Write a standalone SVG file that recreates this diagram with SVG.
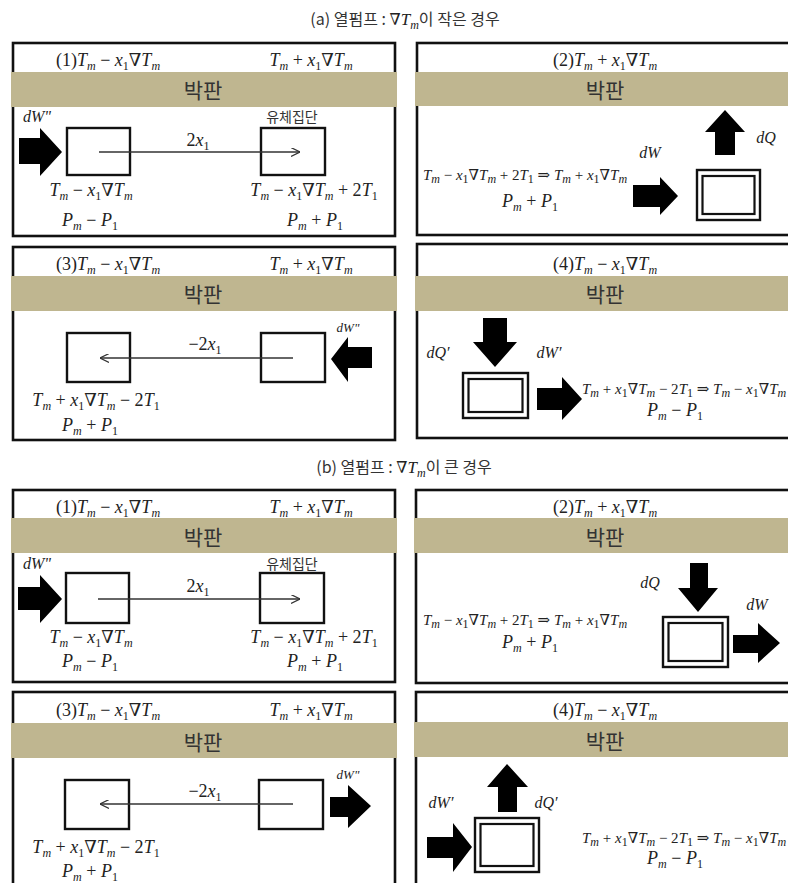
<svg xmlns="http://www.w3.org/2000/svg" width="788" height="883" viewBox="0 0 788 883">
<style>
.pn{fill:#fff;stroke:#111;stroke-width:2.6}
.band{fill:#bfb690}
.bx{fill:#fff;stroke:#111;stroke-width:2.4}
.bx2{fill:none;stroke:#111;stroke-width:2.2}
.ar{fill:#000}
.ln{stroke:#333;stroke-width:1.3;fill:none}
.m{font-family:"Liberation Serif","DejaVu Serif",serif;font-size:18px;fill:#222}
.f{font-size:15px}
.lb{font-size:16px}
.i{font-style:italic}
.s{font-size:12px}
.k{font-family:"Noto Sans CJK KR","Noto Sans",sans-serif;fill:#333}
.kb{font-size:21px}
.kt{font-size:16px}
.kf{font-size:14px}
</style>
<defs>
<marker id="chev" viewBox="0 0 10 10" refX="10" refY="5" markerWidth="9" markerHeight="9" markerUnits="userSpaceOnUse" orient="auto">
<path d="M0,0 L10,5 L0,10" fill="none" stroke="#333" stroke-width="1.3"/>
</marker>
</defs>
<rect width="788" height="883" fill="#fff"/>

<text class="k kt" x="405" y="25" text-anchor="middle">(a) 열펌프 : <tspan class="m" style="font-size:16px">∇</tspan><tspan class="m i" style="font-size:17px">T</tspan><tspan class="m i s" dy="4">m</tspan><tspan dy="-4">이 작은 경우</tspan></text>
<text class="k kt" x="404" y="473" text-anchor="middle">(b) 열펌프 : <tspan class="m" style="font-size:16px">∇</tspan><tspan class="m i" style="font-size:17px">T</tspan><tspan class="m i s" dy="4">m</tspan><tspan dy="-4">이 큰 경우</tspan></text>

<!-- (a)(1) -->
<g id="a1">
<rect class="pn" x="13" y="43" width="382" height="193"/>
<rect class="band" x="11" y="72" width="386" height="35"/>
<text class="k kb" x="203" y="98" text-anchor="middle">박판</text>
<text class="m" x="108" y="66" text-anchor="middle">(1)<tspan class="i">T</tspan><tspan class="i s" dy="4">m</tspan><tspan dy="-4"> − </tspan><tspan class="i">x</tspan><tspan class="s" dy="4">1</tspan><tspan dy="-4">∇</tspan><tspan class="i">T</tspan><tspan class="i s" dy="4">m</tspan></text>
<text class="m" x="311" y="66" text-anchor="middle"><tspan class="i">T</tspan><tspan class="i s" dy="4">m</tspan><tspan dy="-4"> + </tspan><tspan class="i">x</tspan><tspan class="s" dy="4">1</tspan><tspan dy="-4">∇</tspan><tspan class="i">T</tspan><tspan class="i s" dy="4">m</tspan></text>
<g id="a1-box1"><rect class="bx" x="67" y="128" width="63" height="47"/></g>
<g id="a1-box2"><rect class="bx" x="261" y="128" width="64" height="47"/></g>
<polygon class="ar" points="19,138 40,138 40,128 62,152 40,176 40,164 19,164"/>
<text class="m i lb" x="23" y="122">dW"</text>
<text class="k kf" x="292" y="122" text-anchor="middle">유체집단</text>
<text class="m" x="198" y="146" text-anchor="middle">2<tspan class="i">x</tspan><tspan class="s" dy="4">1</tspan></text>
<text class="m" x="91" y="196" text-anchor="middle"><tspan class="i">T</tspan><tspan class="i s" dy="4">m</tspan><tspan dy="-4"> − </tspan><tspan class="i">x</tspan><tspan class="s" dy="4">1</tspan><tspan dy="-4">∇</tspan><tspan class="i">T</tspan><tspan class="i s" dy="4">m</tspan></text>
<text class="m" x="314" y="196" text-anchor="middle"><tspan class="i">T</tspan><tspan class="i s" dy="4">m</tspan><tspan dy="-4"> − </tspan><tspan class="i">x</tspan><tspan class="s" dy="4">1</tspan><tspan dy="-4">∇</tspan><tspan class="i">T</tspan><tspan class="i s" dy="4">m</tspan><tspan dy="-4"> + 2</tspan><tspan class="i">T</tspan><tspan class="s" dy="4">1</tspan></text>
<text class="m" x="90" y="226" text-anchor="middle"><tspan class="i">P</tspan><tspan class="i s" dy="4">m</tspan><tspan dy="-4"> − </tspan><tspan class="i">P</tspan><tspan class="s" dy="4">1</tspan></text>
<text class="m" x="315" y="226" text-anchor="middle"><tspan class="i">P</tspan><tspan class="i s" dy="4">m</tspan><tspan dy="-4"> + </tspan><tspan class="i">P</tspan><tspan class="s" dy="4">1</tspan></text>
</g>

<!-- (a)(2) -->
<g id="a2">
<rect class="pn" x="417" y="43" width="390" height="192"/>
<rect class="band" x="415" y="72" width="380" height="34"/>
<text class="k kb" x="605" y="98" text-anchor="middle">박판</text>
<text class="m" x="605" y="66" text-anchor="middle">(2)<tspan class="i">T</tspan><tspan class="i s" dy="4">m</tspan><tspan dy="-4"> + </tspan><tspan class="i">x</tspan><tspan class="s" dy="4">1</tspan><tspan dy="-4">∇</tspan><tspan class="i">T</tspan><tspan class="i s" dy="4">m</tspan></text>
<polygon class="ar" points="715,155 715,132 705,132 725,110 745,132 735,132 735,155"/>
<polygon class="ar" points="633,185 660,185 660,177 678,196 660,215 660,207 633,207"/>
<g id="a2-box"><rect class="bx" x="697" y="170" width="63" height="50"/><rect class="bx2" x="702.5" y="176" width="52" height="38"/></g>
<text class="m i lb" x="650" y="158" text-anchor="middle">dW</text>
<text class="m i lb" x="766" y="143" text-anchor="middle">dQ</text>
<text class="m f" x="525" y="180" text-anchor="middle"><tspan class="i">T</tspan><tspan class="i s" dy="3">m</tspan><tspan dy="-3"> − </tspan><tspan class="i">x</tspan><tspan class="s" dy="3">1</tspan><tspan dy="-3">∇</tspan><tspan class="i">T</tspan><tspan class="i s" dy="3">m</tspan><tspan dy="-3"> + 2</tspan><tspan class="i">T</tspan><tspan class="s" dy="3">1</tspan><tspan dy="-3"> ⇒ </tspan><tspan class="i">T</tspan><tspan class="i s" dy="3">m</tspan><tspan dy="-3"> + </tspan><tspan class="i">x</tspan><tspan class="s" dy="3">1</tspan><tspan dy="-3">∇</tspan><tspan class="i">T</tspan><tspan class="i s" dy="3">m</tspan></text>
<text class="m" x="530" y="207" text-anchor="middle"><tspan class="i">P</tspan><tspan class="i s" dy="4">m</tspan><tspan dy="-4"> + </tspan><tspan class="i">P</tspan><tspan class="s" dy="4">1</tspan></text>
</g>

<!-- (a)(3) -->
<g id="a3">
<rect class="pn" x="13" y="247" width="382" height="193"/>
<rect class="band" x="11" y="276" width="386" height="35"/>
<text class="k kb" x="203" y="302" text-anchor="middle">박판</text>
<text class="m" x="108" y="270" text-anchor="middle">(3)<tspan class="i">T</tspan><tspan class="i s" dy="4">m</tspan><tspan dy="-4"> − </tspan><tspan class="i">x</tspan><tspan class="s" dy="4">1</tspan><tspan dy="-4">∇</tspan><tspan class="i">T</tspan><tspan class="i s" dy="4">m</tspan></text>
<text class="m" x="311" y="270" text-anchor="middle"><tspan class="i">T</tspan><tspan class="i s" dy="4">m</tspan><tspan dy="-4"> + </tspan><tspan class="i">x</tspan><tspan class="s" dy="4">1</tspan><tspan dy="-4">∇</tspan><tspan class="i">T</tspan><tspan class="i s" dy="4">m</tspan></text>
<g id="a3-box1"><rect class="bx" x="67" y="333" width="63" height="49"/></g>
<g id="a3-box2"><rect class="bx" x="261" y="333" width="64" height="49"/></g>
<polygon class="ar" points="372,347 348,347 348,337 331,359 348,382 348,368 372,368"/>
<text class="m i" style="font-size:13px" x="348" y="332" text-anchor="middle">dW"</text>
<text class="m" x="205" y="350" text-anchor="middle">−2<tspan class="i">x</tspan><tspan class="s" dy="4">1</tspan></text>
<text class="m" x="96" y="406" text-anchor="middle"><tspan class="i">T</tspan><tspan class="i s" dy="4">m</tspan><tspan dy="-4"> + </tspan><tspan class="i">x</tspan><tspan class="s" dy="4">1</tspan><tspan dy="-4">∇</tspan><tspan class="i">T</tspan><tspan class="i s" dy="4">m</tspan><tspan dy="-4"> − 2</tspan><tspan class="i">T</tspan><tspan class="s" dy="4">1</tspan></text>
<text class="m" x="90" y="431" text-anchor="middle"><tspan class="i">P</tspan><tspan class="i s" dy="4">m</tspan><tspan dy="-4"> + </tspan><tspan class="i">P</tspan><tspan class="s" dy="4">1</tspan></text>
</g>

<!-- (a)(4) -->
<g id="a4">
<rect class="pn" x="417" y="244" width="390" height="194"/>
<rect class="band" x="415" y="276" width="380" height="35"/>
<text class="k kb" x="605" y="302" text-anchor="middle">박판</text>
<text class="m" x="605" y="270" text-anchor="middle">(4)<tspan class="i">T</tspan><tspan class="i s" dy="4">m</tspan><tspan dy="-4"> − </tspan><tspan class="i">x</tspan><tspan class="s" dy="4">1</tspan><tspan dy="-4">∇</tspan><tspan class="i">T</tspan><tspan class="i s" dy="4">m</tspan></text>
<polygon class="ar" points="483,318 507,318 507,342 517,342 495,367 473,342 483,342"/>
<polygon class="ar" points="537,388 562,388 562,377 582,399 562,420 562,410 537,410"/>
<g id="a4-box"><rect class="bx" x="463" y="373" width="65" height="45"/><rect class="bx2" x="468.5" y="379" width="54" height="33"/></g>
<text class="m i lb" x="438" y="358" text-anchor="middle">dQ′</text>
<text class="m i lb" x="549" y="358" text-anchor="middle">dW′</text>
<text class="m f" x="582" y="394"><tspan class="i">T</tspan><tspan class="i s" dy="3">m</tspan><tspan dy="-3"> + </tspan><tspan class="i">x</tspan><tspan class="s" dy="3">1</tspan><tspan dy="-3">∇</tspan><tspan class="i">T</tspan><tspan class="i s" dy="3">m</tspan><tspan dy="-3"> − 2</tspan><tspan class="i">T</tspan><tspan class="s" dy="3">1</tspan><tspan dy="-3"> ⇒ </tspan><tspan class="i">T</tspan><tspan class="i s" dy="3">m</tspan><tspan dy="-3"> − </tspan><tspan class="i">x</tspan><tspan class="s" dy="3">1</tspan><tspan dy="-3">∇</tspan><tspan class="i">T</tspan><tspan class="i s" dy="3">m</tspan></text>
<text class="m" x="675" y="416" text-anchor="middle"><tspan class="i">P</tspan><tspan class="i s" dy="4">m</tspan><tspan dy="-4"> − </tspan><tspan class="i">P</tspan><tspan class="s" dy="4">1</tspan></text>
</g>

<!-- (b)(1) -->
<g id="b1">
<rect class="pn" x="13" y="490" width="382" height="192"/>
<rect class="band" x="11" y="518" width="386" height="35"/>
<text class="k kb" x="203" y="545" text-anchor="middle">박판</text>
<text class="m" x="108" y="513" text-anchor="middle">(1)<tspan class="i">T</tspan><tspan class="i s" dy="4">m</tspan><tspan dy="-4"> − </tspan><tspan class="i">x</tspan><tspan class="s" dy="4">1</tspan><tspan dy="-4">∇</tspan><tspan class="i">T</tspan><tspan class="i s" dy="4">m</tspan></text>
<text class="m" x="311" y="513" text-anchor="middle"><tspan class="i">T</tspan><tspan class="i s" dy="4">m</tspan><tspan dy="-4"> + </tspan><tspan class="i">x</tspan><tspan class="s" dy="4">1</tspan><tspan dy="-4">∇</tspan><tspan class="i">T</tspan><tspan class="i s" dy="4">m</tspan></text>
<g id="b1-box1"><rect class="bx" x="66" y="573" width="63" height="50"/></g>
<g id="b1-box2"><rect class="bx" x="260" y="573" width="64" height="50"/></g>
<polygon class="ar" points="18,587 40,587 40,575 62,599 40,623 40,610 18,610"/>
<text class="m i lb" x="23" y="569">dW"</text>
<text class="k kf" x="292" y="569" text-anchor="middle">유체집단</text>
<text class="m" x="198" y="592" text-anchor="middle">2<tspan class="i">x</tspan><tspan class="s" dy="4">1</tspan></text>
<text class="m" x="91" y="643" text-anchor="middle"><tspan class="i">T</tspan><tspan class="i s" dy="4">m</tspan><tspan dy="-4"> − </tspan><tspan class="i">x</tspan><tspan class="s" dy="4">1</tspan><tspan dy="-4">∇</tspan><tspan class="i">T</tspan><tspan class="i s" dy="4">m</tspan></text>
<text class="m" x="314" y="643" text-anchor="middle"><tspan class="i">T</tspan><tspan class="i s" dy="4">m</tspan><tspan dy="-4"> − </tspan><tspan class="i">x</tspan><tspan class="s" dy="4">1</tspan><tspan dy="-4">∇</tspan><tspan class="i">T</tspan><tspan class="i s" dy="4">m</tspan><tspan dy="-4"> + 2</tspan><tspan class="i">T</tspan><tspan class="s" dy="4">1</tspan></text>
<text class="m" x="90" y="667" text-anchor="middle"><tspan class="i">P</tspan><tspan class="i s" dy="4">m</tspan><tspan dy="-4"> − </tspan><tspan class="i">P</tspan><tspan class="s" dy="4">1</tspan></text>
<text class="m" x="315" y="667" text-anchor="middle"><tspan class="i">P</tspan><tspan class="i s" dy="4">m</tspan><tspan dy="-4"> + </tspan><tspan class="i">P</tspan><tspan class="s" dy="4">1</tspan></text>
</g>

<!-- (b)(2) -->
<g id="b2">
<rect class="pn" x="416" y="490" width="390" height="193"/>
<rect class="band" x="414" y="518" width="380" height="35"/>
<text class="k kb" x="605" y="545" text-anchor="middle">박판</text>
<text class="m" x="605" y="513" text-anchor="middle">(2)<tspan class="i">T</tspan><tspan class="i s" dy="4">m</tspan><tspan dy="-4"> + </tspan><tspan class="i">x</tspan><tspan class="s" dy="4">1</tspan><tspan dy="-4">∇</tspan><tspan class="i">T</tspan><tspan class="i s" dy="4">m</tspan></text>
<polygon class="ar" points="690,563 708,563 708,588 718,588 698,612 678,588 690,588"/>
<polygon class="ar" points="733,635 758,635 758,623 780,643 758,663 758,653 733,653"/>
<g id="b2-box"><rect class="bx" x="663" y="617" width="65" height="50"/><rect class="bx2" x="668.5" y="623" width="54" height="38"/></g>
<text class="m i lb" x="650" y="588" text-anchor="middle">dQ</text>
<text class="m i lb" x="757" y="610" text-anchor="middle">dW</text>
<text class="m f" x="525" y="625" text-anchor="middle"><tspan class="i">T</tspan><tspan class="i s" dy="3">m</tspan><tspan dy="-3"> − </tspan><tspan class="i">x</tspan><tspan class="s" dy="3">1</tspan><tspan dy="-3">∇</tspan><tspan class="i">T</tspan><tspan class="i s" dy="3">m</tspan><tspan dy="-3"> + 2</tspan><tspan class="i">T</tspan><tspan class="s" dy="3">1</tspan><tspan dy="-3"> ⇒ </tspan><tspan class="i">T</tspan><tspan class="i s" dy="3">m</tspan><tspan dy="-3"> + </tspan><tspan class="i">x</tspan><tspan class="s" dy="3">1</tspan><tspan dy="-3">∇</tspan><tspan class="i">T</tspan><tspan class="i s" dy="3">m</tspan></text>
<text class="m" x="530" y="648" text-anchor="middle"><tspan class="i">P</tspan><tspan class="i s" dy="4">m</tspan><tspan dy="-4"> + </tspan><tspan class="i">P</tspan><tspan class="s" dy="4">1</tspan></text>
</g>

<!-- (b)(3) -->
<g id="b3">
<rect class="pn" x="13" y="692" width="382" height="210"/>
<rect class="band" x="11" y="723" width="386" height="35"/>
<text class="k kb" x="203" y="750" text-anchor="middle">박판</text>
<text class="m" x="108" y="716" text-anchor="middle">(3)<tspan class="i">T</tspan><tspan class="i s" dy="4">m</tspan><tspan dy="-4"> − </tspan><tspan class="i">x</tspan><tspan class="s" dy="4">1</tspan><tspan dy="-4">∇</tspan><tspan class="i">T</tspan><tspan class="i s" dy="4">m</tspan></text>
<text class="m" x="311" y="716" text-anchor="middle"><tspan class="i">T</tspan><tspan class="i s" dy="4">m</tspan><tspan dy="-4"> + </tspan><tspan class="i">x</tspan><tspan class="s" dy="4">1</tspan><tspan dy="-4">∇</tspan><tspan class="i">T</tspan><tspan class="i s" dy="4">m</tspan></text>
<g id="b3-box1"><rect class="bx" x="65" y="780" width="64" height="49"/></g>
<g id="b3-box2"><rect class="bx" x="259" y="780" width="64" height="49"/></g>
<polygon class="ar" points="330,797 348,797 348,785 371,806 348,828 348,817 330,817"/>
<text class="m i" style="font-size:13px" x="348" y="779" text-anchor="middle">dW"</text>
<text class="m" x="205" y="797" text-anchor="middle">−2<tspan class="i">x</tspan><tspan class="s" dy="4">1</tspan></text>
<text class="m" x="96" y="853" text-anchor="middle"><tspan class="i">T</tspan><tspan class="i s" dy="4">m</tspan><tspan dy="-4"> + </tspan><tspan class="i">x</tspan><tspan class="s" dy="4">1</tspan><tspan dy="-4">∇</tspan><tspan class="i">T</tspan><tspan class="i s" dy="4">m</tspan><tspan dy="-4"> − 2</tspan><tspan class="i">T</tspan><tspan class="s" dy="4">1</tspan></text>
<text class="m" x="90" y="877" text-anchor="middle"><tspan class="i">P</tspan><tspan class="i s" dy="4">m</tspan><tspan dy="-4"> + </tspan><tspan class="i">P</tspan><tspan class="s" dy="4">1</tspan></text>
</g>

<!-- (b)(4) -->
<g id="b4">
<rect class="pn" x="416" y="692" width="390" height="210"/>
<rect class="band" x="414" y="722" width="380" height="35"/>
<text class="k kb" x="605" y="749" text-anchor="middle">박판</text>
<text class="m" x="605" y="716" text-anchor="middle">(4)<tspan class="i">T</tspan><tspan class="i s" dy="4">m</tspan><tspan dy="-4"> − </tspan><tspan class="i">x</tspan><tspan class="s" dy="4">1</tspan><tspan dy="-4">∇</tspan><tspan class="i">T</tspan><tspan class="i s" dy="4">m</tspan></text>
<polygon class="ar" points="498,812 498,787 487,787 507,764 528,787 517,787 517,812"/>
<polygon class="ar" points="427,837 453,837 453,823 472,847 453,872 453,858 427,858"/>
<g id="b4-box"><rect class="bx" x="475" y="818" width="64" height="54"/><rect class="bx2" x="480.5" y="824" width="53" height="42"/></g>
<text class="m i lb" x="441" y="808" text-anchor="middle">dW′</text>
<text class="m i lb" x="546" y="808" text-anchor="middle">dQ′</text>
<text class="m f" x="582" y="843"><tspan class="i">T</tspan><tspan class="i s" dy="3">m</tspan><tspan dy="-3"> + </tspan><tspan class="i">x</tspan><tspan class="s" dy="3">1</tspan><tspan dy="-3">∇</tspan><tspan class="i">T</tspan><tspan class="i s" dy="3">m</tspan><tspan dy="-3"> − 2</tspan><tspan class="i">T</tspan><tspan class="s" dy="3">1</tspan><tspan dy="-3"> ⇒ </tspan><tspan class="i">T</tspan><tspan class="i s" dy="3">m</tspan><tspan dy="-3"> − </tspan><tspan class="i">x</tspan><tspan class="s" dy="3">1</tspan><tspan dy="-3">∇</tspan><tspan class="i">T</tspan><tspan class="i s" dy="3">m</tspan></text>
<text class="m" x="675" y="864" text-anchor="middle"><tspan class="i">P</tspan><tspan class="i s" dy="4">m</tspan><tspan dy="-4"> − </tspan><tspan class="i">P</tspan><tspan class="s" dy="4">1</tspan></text>
</g>

<g id="connectors">
<line class="ln" x1="99" y1="152" x2="300" y2="152" marker-end="url(#chev)"/>
<line class="ln" x1="293" y1="358" x2="100" y2="358" marker-end="url(#chev)"/>
<line class="ln" x1="98" y1="599" x2="300" y2="599" marker-end="url(#chev)"/>
<line class="ln" x1="293" y1="804" x2="100" y2="804" marker-end="url(#chev)"/>
</g>
</svg>
